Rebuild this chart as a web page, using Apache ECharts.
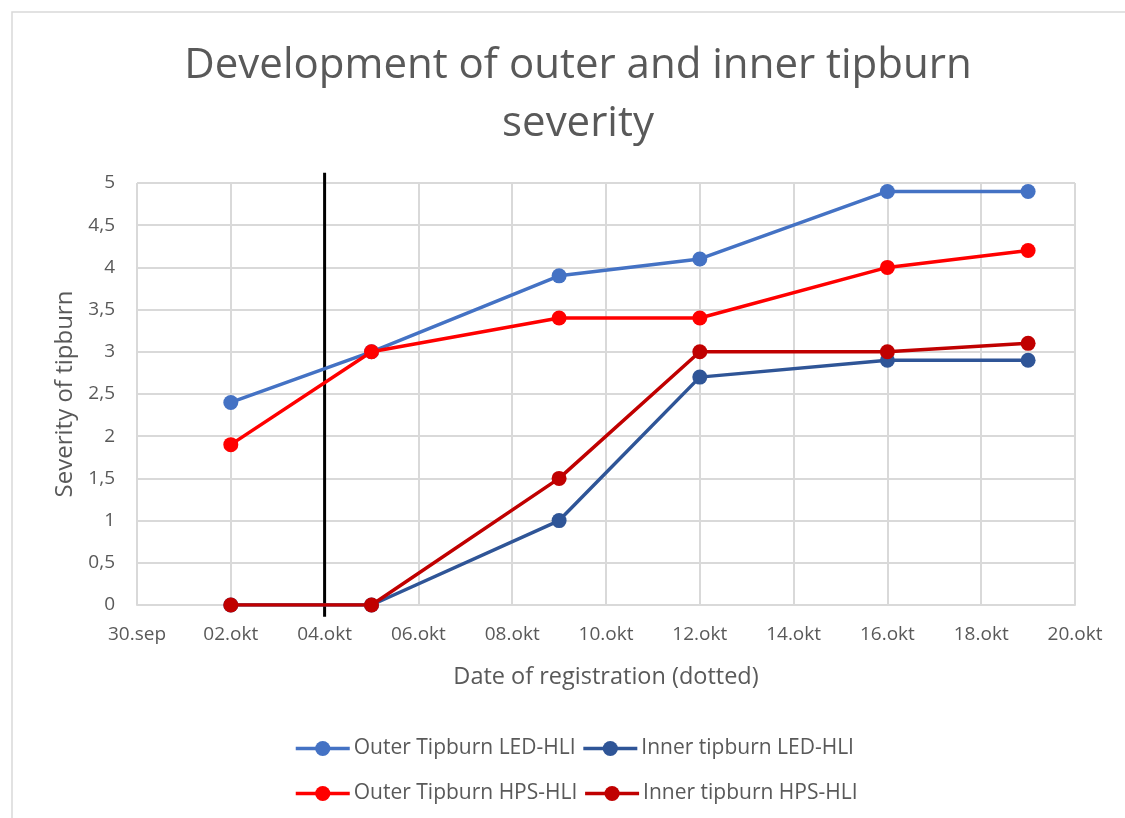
<!DOCTYPE html>
<html>
<head>
<meta charset="utf-8">
<script src="https://cdn.jsdelivr.net/npm/echarts@6/dist/echarts.min.js"></script>
<style>
html,body{margin:0;padding:0;background:#fff;}
#chart{width:1125px;height:818px;}
</style>
</head>
<body>
<div id="chart"></div>
<script>
// ---- data ----
const startDate = '2023-09-30';
const endDate = '2023-10-20';
const dates = ['2023-10-02', '2023-10-05', '2023-10-09', '2023-10-12', '2023-10-16', '2023-10-19'];
const outerLED = [2.4, 3.0, 3.9, 4.1, 4.9, 4.9];
const innerLED = [0, 0, 1.0, 2.7, 2.9, 2.9];
const outerHPS = [1.9, 3.0, 3.4, 3.4, 4.0, 4.2];
const innerHPS = [0, 0, 1.5, 3.0, 3.0, 3.1];
const markerDate = '2023-10-04';
const seriesNames = ['Outer Tipburn LED-HLI', 'Inner tipburn LED-HLI', 'Outer Tipburn HPS-HLI', 'Inner tipburn HPS-HLI'];
const monthNames = ['jan', 'feb', 'mar', 'apr', 'mai', 'jun', 'jul', 'aug', 'sep', 'okt', 'nov', 'des'];
const titleText = 'Development of outer and inner tipburn\nseverity';
const xName = 'Date of registration (dotted)';
const yName = 'Severity of tipburn';
const yMin = 0, yMax = 5, yStep = 0.5;

// ---- helpers ----
const DAY = 86400000;
const t0 = Date.parse(startDate);
function dayOffset(d) { return Math.round((Date.parse(d) - t0) / DAY); }
function fmtDate(v) {
  const d = new Date(t0 + v * DAY);
  const dd = String(d.getUTCDate()).padStart(2, '0');
  return dd + '.' + monthNames[d.getUTCMonth()];
}
function pts(vals) { return dates.map((d, i) => [dayOffset(d), vals[i]]); }

const FONT = 'Open Sans';
const TXT = '#595959';
const GRID = '#d9d9d9';
const colors = ['#4472C4', '#2F5597', '#FF0000', '#C00000'];
const valuesList = [outerLED, innerLED, outerHPS, innerHPS];

const chart = echarts.init(document.getElementById('chart'), null, { renderer: 'canvas' });

const lineSeries = seriesNames.map((n, i) => ({
  name: n,
  type: 'line',
  data: pts(valuesList[i]),
  symbol: 'circle',
  symbolSize: 15,
  lineStyle: { width: 3.5, color: colors[i] },
  itemStyle: { color: colors[i] },
  z: 3 + i
}));

const legendCommon = {
  left: 289,
  itemWidth: 54, itemHeight: 19, itemGap: 6,
  lineStyle: { width: 3.5 },
  textStyle: { fontFamily: FONT, fontSize: 21, color: TXT, padding: [0, 0, 0, -1] }
};

const option = {
  animation: false,
  backgroundColor: '#fff',
  graphic: [{
    type: 'rect',
    shape: { x: 12, y: 12, width: 1200, height: 900 },
    style: { fill: 'none', stroke: GRID, lineWidth: 1.5 },
    silent: true, z: -10
  }],
  title: {
    text: titleText,
    left: 573,
    textAlign: 'center',
    top: 32,
    textStyle: { fontFamily: FONT, fontSize: 42, fontWeight: 'normal', color: TXT, lineHeight: 58, align: 'center' }
  },
  grid: { left: 137, right: 50, top: 183, bottom: 213 },
  xAxis: {
    type: 'value',
    min: 0,
    max: dayOffset(endDate),
    interval: 2,
    name: xName,
    nameLocation: 'middle',
    nameGap: 60,
    nameTextStyle: { fontFamily: FONT, fontSize: 23.5, color: TXT },
    axisLine: { show: true, lineStyle: { color: GRID, width: 2 } },
    axisTick: { show: false },
    axisLabel: { fontFamily: FONT, fontSize: 19, color: TXT, margin: 20, formatter: fmtDate },
    splitLine: { show: true, lineStyle: { color: GRID, width: 2 } }
  },
  yAxis: {
    type: 'value',
    min: yMin,
    max: yMax,
    interval: yStep,
    name: yName,
    nameLocation: 'middle',
    nameGap: 60,
    nameTextStyle: { fontFamily: FONT, fontSize: 24, color: TXT },
    axisLine: { show: false },
    axisTick: { show: false },
    axisLabel: { fontFamily: FONT, fontSize: 19, color: TXT, margin: 22, formatter: v => String(v).replace('.', ',') },
    splitLine: { show: true, lineStyle: { color: GRID, width: 2 } }
  },
  legend: [
    Object.assign({ data: seriesNames.slice(0, 2), top: 733 }, legendCommon),
    Object.assign({ data: seriesNames.slice(2, 4), top: 778 }, legendCommon)
  ],
  series: [{
    name: 'marker',
    type: 'line',
    data: [[dayOffset(markerDate), -0.14], [dayOffset(markerDate), 5.12]],
    symbol: 'none',
    clip: false,
    lineStyle: { color: '#000', width: 3 },
    z: 2,
    silent: true
  }].concat(lineSeries)
};
chart.setOption(option);
</script>
</body>
</html>
